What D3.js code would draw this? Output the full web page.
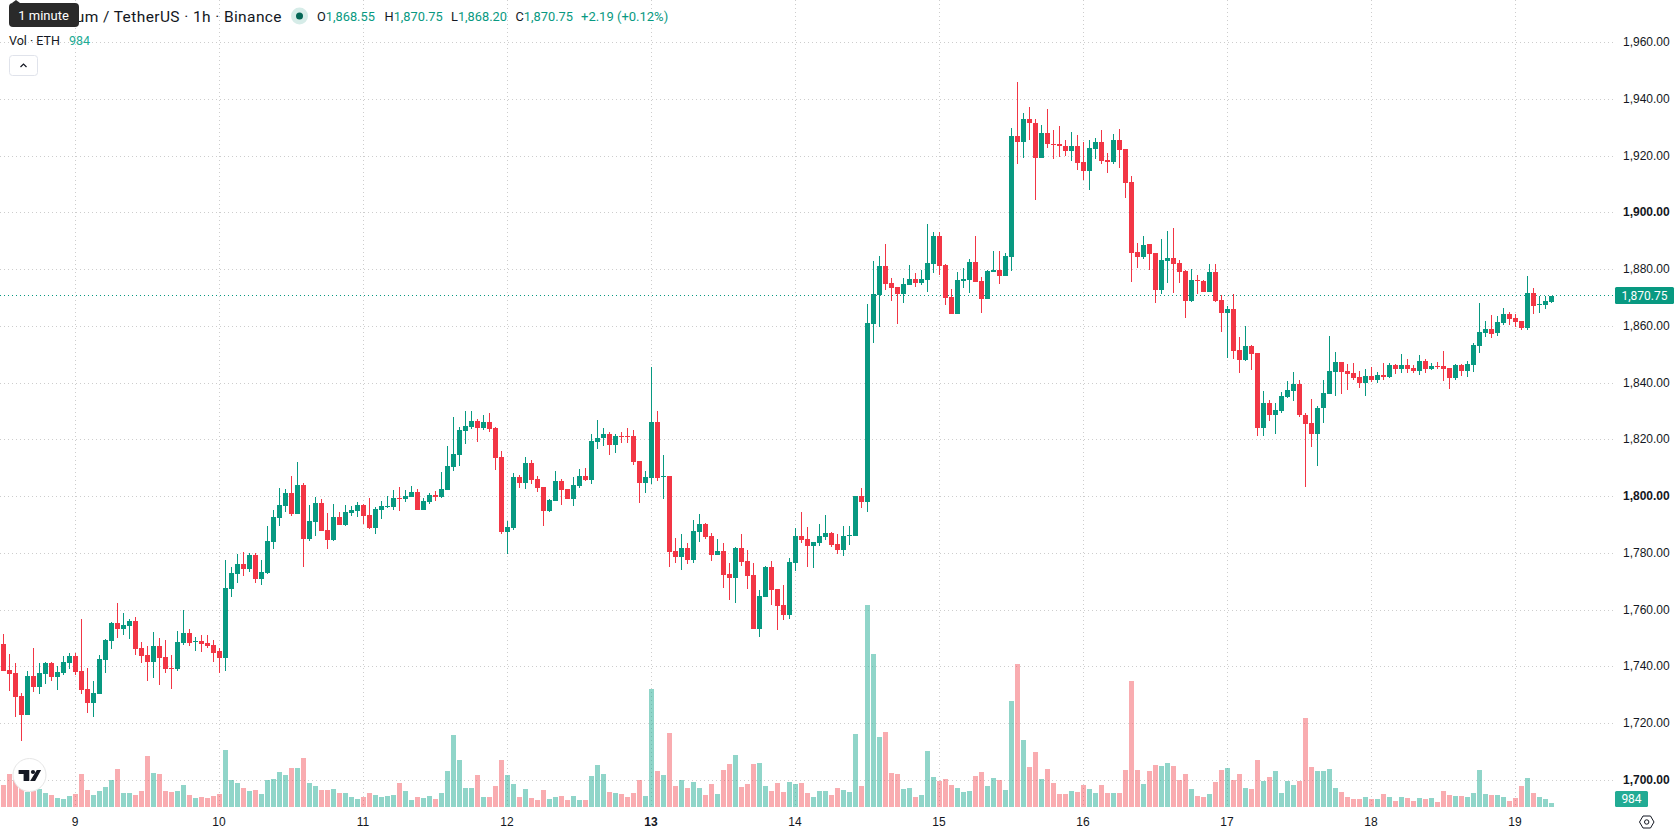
<!DOCTYPE html>
<html>
<head>
<meta charset="utf-8">
<title>ETH/USDT 1h</title>
<script src="https://cdn.jsdelivr.net/npm/d3@7/dist/d3.min.js"></script>
<style>
  html, body { margin: 0; padding: 0; background: #fff; }
  svg { display: block; font-family: Roboto, "Noto Sans", sans-serif; }
  .axis text { fill: #131722; font-size: 12px; }
  .axis .major text { font-weight: 700; }
</style>
</head>
<body>
<svg id="chart" width="1678" height="835"></svg>
<script>
// Hourly candles, oldest first; the first bar is the 8th at 12:00.
const opens = [
  1748.1,1739.0,1737.9,1729.8,1723.1,1736.8,1733.0,1737.5,1741.4,1736.5,
  1737.9,1741.4,1743.9,1738.6,1732.3,1727.4,1730.5,1742.5,1749.1,1755.5,
  1753.4,1754.4,1756.2,1746.7,1744.2,1741.8,1747.4,1743.5,1739.6,1739.3,
  1748.4,1752.0,1748.8,1749.1,1748.4,1747.7,1745.6,1743.2,1767.4,1772.7,
  1776.2,1774.5,1779.4,1770.9,1773.1,1783.9,1792.4,1796.6,1801.2,1793.8,
  1804.0,1785.0,1791.0,1797.7,1788.2,1784.7,1792.7,1789.9,1794.1,1794.8,
  1797.0,1793.4,1788.9,1795.2,1796.3,1796.3,1799.4,1799.1,1799.8,1801.5,
  1795.2,1798.0,1800.5,1799.8,1802.2,1810.3,1814.5,1823.0,1824.4,1826.5,
  1824.0,1826.1,1824.0,1813.8,1787.5,1788.9,1806.8,1804.7,1811.7,1806.1,
  1803.3,1794.8,1798.4,1805.4,1802.6,1799.1,1803.6,1807.1,1805.7,1819.1,
  1820.5,1821.9,1818.0,1821.5,1821.5,1821.2,1812.4,1804.7,1806.4,1826.4,
  1806.8,1807.1,1780.7,1778.6,1781.8,1777.6,1787.4,1790.3,1786.0,1779.3,
  1780.7,1772.7,1771.3,1781.8,1777.2,1772.3,1753.3,1764.6,1775.1,1767.4,
  1761.8,1758.3,1776.5,1786.0,1785.0,1782.5,1783.6,1785.7,1787.1,1783.2,
  1781.1,1786.0,1786.0,1800.1,1798.0,1860.8,1871.0,1881.2,1875.2,1873.8,
  1871.4,1874.5,1876.6,1875.2,1876.3,1881.9,1891.8,1881.6,1870.3,1864.3,
  1875.9,1876.3,1882.6,1875.9,1869.6,1879.1,1879.8,1877.7,1884.4,1926.9,
  1925.1,1933.2,1931.8,1919.2,1928.0,1924.4,1924.1,1923.7,1921.6,1923.4,
  1917.8,1914.6,1922.3,1925.1,1918.5,1917.8,1925.5,1922.3,1910.7,1886.1,
  1884.4,1888.9,1885.8,1872.7,1882.9,1884.0,1882.2,1879.4,1868.8,1876.2,
  1875.9,1872.0,1879.1,1869.2,1864.6,1866.0,1851.5,1848.0,1852.9,1850.5,
  1824.0,1832.8,1828.6,1830.0,1834.9,1837.1,1839.5,1828.9,1825.8,1822.2,
  1831.1,1836.0,1843.8,1847.3,1844.1,1843.4,1842.0,1839.9,1842.4,1840.9,
  1842.7,1842.0,1846.2,1844.8,1846.2,1845.2,1844.1,1847.6,1844.8,1845.9,
  1845.9,1845.2,1841.6,1846.2,1844.1,1846.2,1852.9,1857.5,1858.9,1857.5,
  1861.1,1864.2,1862.8,1861.8,1859.3,1871.6,1867.4,1867.4,1868.55
];
const closes = [
  1738.6,1737.6,1729.5,1723.1,1736.8,1733.0,1737.9,1741.4,1736.5,1738.3,
  1741.8,1743.9,1738.3,1731.9,1727.4,1730.9,1742.8,1749.5,1755.5,1753.4,
  1754.8,1756.2,1746.3,1743.9,1741.8,1747.4,1743.2,1739.3,1739.3,1748.8,
  1752.0,1748.4,1749.1,1748.1,1747.4,1744.9,1743.2,1767.8,1773.1,1776.2,
  1774.5,1779.4,1770.9,1773.4,1784.3,1792.7,1797.0,1801.2,1793.8,1804.0,
  1785.0,1791.3,1797.7,1787.8,1784.7,1792.7,1789.9,1794.5,1795.2,1797.0,
  1793.1,1788.9,1795.5,1796.6,1796.6,1799.4,1799.1,1800.1,1801.5,1795.2,
  1798.4,1800.5,1799.8,1802.6,1810.7,1814.9,1823.3,1824.7,1826.5,1824.0,
  1826.1,1823.7,1813.5,1787.5,1789.2,1806.8,1804.7,1811.7,1805.7,1802.9,
  1794.8,1798.7,1805.4,1802.2,1799.1,1804.0,1807.1,1805.7,1819.4,1820.8,
  1821.9,1818.0,1821.5,1821.2,1821.2,1812.0,1804.7,1806.8,1826.4,1806.4,
  1807.1,1780.4,1778.6,1781.8,1777.6,1787.8,1790.3,1785.7,1779.3,1780.7,
  1772.3,1771.3,1781.8,1776.9,1772.0,1753.3,1764.9,1775.1,1767.0,1761.4,
  1758.3,1776.9,1786.0,1784.6,1782.5,1783.9,1786.0,1787.1,1782.9,1781.1,
  1786.0,1786.4,1800.1,1798.0,1861.2,1871.4,1881.2,1874.9,1873.5,1871.4,
  1874.9,1876.6,1875.2,1876.6,1882.3,1891.8,1881.2,1870.0,1864.3,1876.3,
  1876.6,1882.6,1875.6,1869.6,1879.4,1879.8,1877.7,1884.7,1926.9,1925.1,
  1933.2,1931.5,1919.2,1928.0,1924.1,1924.1,1923.4,1921.6,1923.4,1917.4,
  1914.6,1922.7,1925.1,1918.1,1917.8,1925.5,1922.0,1910.4,1885.8,1884.4,
  1888.6,1885.4,1872.7,1883.3,1884.0,1881.9,1879.1,1868.8,1876.2,1875.9,
  1872.0,1879.1,1868.8,1864.6,1866.0,1851.2,1848.0,1852.9,1850.1,1824.0,
  1832.8,1828.6,1830.4,1835.3,1837.4,1839.5,1828.6,1825.4,1822.2,1831.1,
  1836.4,1844.2,1847.3,1843.8,1843.1,1841.6,1839.9,1842.4,1840.9,1842.7,
  1842.0,1846.2,1844.8,1846.2,1844.8,1844.1,1847.6,1844.8,1845.9,1845.5,
  1844.8,1841.6,1846.2,1844.1,1846.6,1853.3,1857.9,1858.9,1857.2,1861.4,
  1864.2,1862.5,1861.4,1859.3,1871.6,1867.1,1867.8,1868.8,1870.75
];
const highs = [
  1751.6,1744.6,1741.4,1730.9,1738.6,1746.7,1741.4,1741.8,1741.8,1740.3,
  1743.9,1744.9,1744.9,1756.9,1739.7,1735.1,1744.2,1749.9,1755.9,1762.5,
  1759.0,1756.9,1757.6,1748.8,1747.4,1752.3,1750.2,1749.5,1744.2,1752.7,
  1760.0,1753.4,1750.6,1751.3,1751.3,1749.5,1746.7,1777.6,1775.2,1779.8,
  1780.5,1780.1,1780.1,1777.6,1789.6,1795.2,1802.9,1802.6,1807.1,1812.1,
  1804.7,1797.0,1799.8,1799.1,1794.1,1797.3,1794.5,1797.0,1796.6,1798.0,
  1797.3,1799.5,1796.3,1798.4,1800.1,1802.2,1803.3,1802.2,1803.6,1802.6,
  1799.4,1801.2,1801.9,1808.6,1817.7,1827.9,1824.4,1830.0,1830.0,1827.2,
  1828.6,1829.3,1824.4,1815.9,1791.3,1808.2,1807.5,1813.8,1812.8,1807.1,
  1803.3,1799.1,1808.9,1806.1,1802.6,1806.8,1809.6,1810.0,1821.9,1826.8,
  1824.3,1822.6,1822.2,1822.9,1824.0,1823.6,1812.4,1808.9,1845.8,1830.0,
  1814.8,1807.1,1785.3,1786.7,1783.5,1791.6,1793.8,1790.6,1787.1,1785.0,
  1783.5,1776.5,1782.2,1786.7,1781.0,1776.5,1767.1,1775.5,1777.2,1767.4,
  1768.8,1778.3,1788.8,1794.5,1789.2,1783.9,1790.3,1793.4,1787.4,1786.7,
  1789.5,1789.5,1800.1,1802.9,1867.9,1883.0,1884.7,1888.9,1877.0,1873.8,
  1877.0,1881.6,1878.7,1879.8,1896.0,1893.2,1893.2,1881.9,1873.1,1879.1,
  1880.5,1883.7,1891.8,1877.3,1879.8,1886.5,1886.5,1885.8,1929.7,1946.2,
  1935.3,1937.4,1932.9,1931.1,1936.7,1929.0,1930.4,1925.5,1928.3,1927.3,
  1924.8,1925.8,1926.2,1929.0,1920.9,1927.6,1929.4,1922.3,1912.8,1889.3,
  1891.8,1888.9,1885.8,1890.7,1893.5,1894.6,1883.3,1879.8,1880.1,1878.0,
  1876.2,1881.9,1881.9,1870.9,1867.1,1871.3,1856.1,1860.0,1853.3,1850.5,
  1837.1,1833.9,1832.8,1836.7,1840.6,1843.8,1840.9,1829.6,1834.2,1831.8,
  1840.9,1856.5,1851.0,1847.3,1846.6,1846.9,1844.1,1844.8,1845.5,1843.8,
  1846.9,1846.9,1846.6,1850.1,1848.4,1846.2,1849.8,1848.4,1846.9,1847.3,
  1851.3,1845.2,1846.6,1846.6,1847.6,1854.0,1868.1,1861.8,1863.9,1863.5,
  1866.4,1864.9,1864.2,1861.8,1877.6,1873.4,1870.6,1870.6,1870.75
];
const lows = [
  1738.6,1731.6,1722.4,1714.0,1723.1,1731.2,1730.5,1734.0,1735.1,1731.9,
  1737.2,1739.3,1737.2,1730.5,1723.8,1722.4,1730.5,1737.9,1746.3,1750.2,
  1751.3,1749.9,1744.2,1741.4,1735.1,1736.1,1733.7,1737.9,1732.3,1738.6,
  1747.7,1747.4,1745.6,1745.3,1746.7,1741.8,1737.9,1738.6,1764.6,1769.5,
  1772.0,1773.3,1769.5,1768.8,1772.7,1781.5,1789.6,1794.5,1793.1,1793.8,
  1775.2,1784.3,1786.1,1787.8,1781.5,1784.3,1789.9,1789.6,1793.1,1792.7,
  1790.3,1788.5,1786.8,1792.0,1795.9,1795.2,1794.8,1798.0,1799.8,1795.2,
  1795.2,1797.3,1798.4,1799.4,1802.2,1808.9,1810.7,1818.4,1823.7,1819.1,
  1823.3,1822.6,1809.3,1786.8,1779.7,1788.2,1802.9,1802.6,1804.3,1801.5,
  1789.6,1794.5,1798.4,1797.0,1799.1,1796.6,1802.9,1805.4,1804.3,1816.6,
  1817.7,1814.8,1815.2,1818.7,1818.7,1811.0,1797.6,1801.1,1804.3,1805.4,
  1799.0,1775.1,1776.5,1774.1,1776.2,1776.5,1783.9,1785.0,1777.2,1779.3,
  1767.7,1763.5,1762.5,1775.5,1767.4,1753.3,1750.5,1764.6,1761.8,1753.0,
  1756.5,1756.8,1773.7,1783.6,1775.1,1774.8,1782.5,1784.6,1782.2,1779.7,
  1779.0,1782.9,1786.0,1795.9,1794.5,1854.2,1859.8,1872.8,1868.9,1860.8,
  1868.2,1874.5,1873.8,1874.5,1872.1,1878.7,1878.0,1867.5,1864.3,1864.3,
  1873.5,1871.7,1875.6,1864.7,1869.6,1879.1,1874.9,1877.7,1879.4,1917.1,
  1919.2,1925.8,1904.4,1919.2,1922.7,1918.8,1919.5,1919.9,1918.1,1915.0,
  1911.4,1907.9,1918.8,1917.1,1913.9,1917.1,1915.7,1905.1,1875.6,1880.5,
  1883.7,1879.8,1868.1,1871.3,1875.2,1871.6,1875.2,1862.8,1868.5,1871.3,
  1872.0,1872.0,1868.5,1857.9,1848.7,1848.4,1843.4,1847.6,1844.5,1821.5,
  1821.2,1826.5,1821.9,1829.6,1834.6,1833.5,1828.2,1803.5,1817.6,1810.9,
  1825.8,1836.0,1835.6,1836.0,1837.4,1840.9,1838.1,1835.6,1840.2,1839.9,
  1840.9,1841.6,1843.1,1843.4,1843.4,1843.4,1842.7,1843.4,1844.5,1844.8,
  1840.6,1837.8,1840.9,1842.4,1842.0,1843.8,1850.5,1856.1,1855.8,1856.5,
  1860.4,1860.4,1859.6,1858.6,1858.6,1864.2,1864.6,1866.0,1868.20
];
const volumes = [
  5412,8118,6642,5412,3690,3936,4428,3444,2952,2214,
  1968,2706,3198,8118,4182,2952,3936,4920,6642,9348,
  3444,3444,2952,3936,12546,8364,8118,3936,3690,3936,
  5412,2952,2214,2460,2214,2706,3198,14022,6642,5904,
  4674,3936,4182,3198,6642,6888,8610,7872,9594,9594,
  12054,5904,5166,4182,4182,4428,3444,3444,2460,1968,
  2460,3444,2952,2460,2706,2952,5904,3936,1722,2460,
  2214,2706,1968,3444,8856,17712,11562,4674,4674,7872,
  2460,2460,5166,11562,7872,5658,2460,4428,2214,1722,
  4182,1968,2460,2706,1722,2706,1722,1722,7626,10332,
  8118,3690,3444,3198,2460,3444,6642,2706,29028,8856,
  7872,18204,5166,6642,4674,6150,4674,2952,5658,3198,
  9102,10578,12792,4920,5658,10578,10824,5166,3936,5904,
  3690,6150,5658,5904,3444,2460,3936,3936,2952,4674,
  4182,3690,17958,5166,49692,37638,17220,18450,8364,8118,
  4428,4674,2460,2952,13776,7380,6396,6888,5412,4674,
  3690,3936,7626,8610,5166,7134,6642,4182,26076,35178,
  16482,9840,13530,6888,9348,5904,3198,3198,3936,3690,
  5412,4428,3444,5412,3444,3444,3444,9102,30996,9102,
  5658,8856,10332,10086,10824,10086,6642,8118,4428,2706,
  2460,3198,6150,9102,9594,6642,8118,4674,4428,11562,
  6396,7380,8856,3444,6396,5412,6396,21894,9840,8856,
  8856,9348,4674,3690,2460,1968,1968,2460,1968,1968,
  3198,2460,1476,2460,2214,1476,2214,1968,2214,1230,
  3936,2952,2706,2706,2460,3444,9102,3198,2952,2952,
  2460,1476,2214,5166,7134,3444,2460,1968,984
];
const priceTicks = [1700,1720,1740,1760,1780,1800,1820,1840,1860,1880,1900,1920,1940,1960];
const majorPrices = [1700,1800,1900];
const dayLabels = [9,10,11,12,13,14,15,16,17,18,19];
const dayBars = [12,36,60,84,108,132,156,180,204,228,252];
const majorDays = [13];
const lastPrice = 1870.75;
const lastVolume = 984;

const UP = "#089981", DOWN = "#f23645";
const UP_VOL = "rgba(34,171,148,0.5)", DOWN_VOL = "rgba(242,70,80,0.45)";
const GRID = "#cdcdcd", INK = "#131722";

const W = 1678, H = 835, plotRight = 1613, volBase = 807;
const svg = d3.select("#chart");

const x = d3.scaleLinear().domain([0, opens.length - 1]).range([3.5, 1551.5]);
const y = d3.scaleLinear().domain([1700, 1960]).range([780.3, 42.5]);
const yv = d3.scaleLinear().domain([0, d3.max(volumes)]).range([volBase, 605]);
const snap = v => Math.round(v);
const rowCentre = v => Math.floor(v) + 0.5;

// Dotted background grid
const grid = svg.append("g").attr("fill", "none").attr("stroke", GRID)
  .attr("stroke-width", 1).attr("stroke-dasharray", "1 3");
grid.selectAll("line.h").data(priceTicks).join("line").attr("class", "h")
  .attr("x1", 0).attr("x2", plotRight)
  .attr("y1", d => rowCentre(y(d))).attr("y2", d => rowCentre(y(d)));
grid.selectAll("line.v").data(dayBars).join("line").attr("class", "v")
  .attr("y1", 0).attr("y2", volBase + 1)
  .attr("x1", d => x(d)).attr("x2", d => x(d));

const bars = d3.range(opens.length);

// Volume histogram along the bottom of the pane
svg.append("g").selectAll("rect").data(bars).join("rect")
  .attr("x", i => x(i) - 2.5).attr("width", 5)
  .attr("y", i => snap(yv(volumes[i])))
  .attr("height", i => volBase - snap(yv(volumes[i])))
  .attr("fill", i => closes[i] >= opens[i] ? UP_VOL : DOWN_VOL);

// Last-price line
svg.append("line").attr("x1", 0).attr("x2", plotRight)
  .attr("y1", rowCentre(y(lastPrice))).attr("y2", rowCentre(y(lastPrice)))
  .attr("stroke", UP).attr("stroke-dasharray", "1 3");

// Candles: 1px wick and 5px body on whole pixels
const candles = svg.append("g").attr("shape-rendering", "crispEdges");
candles.selectAll("rect.wick").data(bars).join("rect").attr("class", "wick")
  .attr("x", i => x(i) - 0.5).attr("width", 1)
  .attr("y", i => snap(y(highs[i])))
  .attr("height", i => Math.max(1, snap(y(lows[i])) - snap(y(highs[i]))))
  .attr("fill", i => closes[i] >= opens[i] ? UP : DOWN);
candles.selectAll("rect.body").data(bars).join("rect").attr("class", "body")
  .attr("x", i => x(i) - 2.5).attr("width", 5)
  .attr("y", i => snap(y(Math.max(opens[i], closes[i]))))
  .attr("height", i => Math.max(1, snap(y(Math.min(opens[i], closes[i]))) - snap(y(Math.max(opens[i], closes[i])))))
  .attr("fill", i => closes[i] >= opens[i] ? UP : DOWN);

// Price axis
const priceAxis = d3.axisRight(y).tickValues(priceTicks).tickSize(0).tickPadding(0)
  .tickFormat(d3.format(",.2f"));
const pa = svg.append("g").attr("class", "axis").attr("transform", "translate(1623,-1)").call(priceAxis);
pa.select(".domain").remove();
pa.selectAll(".tick").classed("major", d => majorPrices.includes(d));
pa.selectAll("text").attr("font-family", null).attr("dy", "0.35em");

// Day axis
const dayOf = d3.scaleOrdinal().domain(dayBars).range(dayLabels);
const timeAxis = d3.axisBottom(x).tickValues(dayBars).tickSize(0).tickPadding(0).tickFormat(d => dayOf(d));
const ta = svg.append("g").attr("class", "axis").attr("transform", "translate(-1,822)").call(timeAxis);
ta.select(".domain").remove();
ta.selectAll(".tick").classed("major", d => majorDays.includes(dayOf(d)));
ta.selectAll("text").attr("font-family", null).attr("dy", "0.35em");

// Value badges on the price scale
const fmt = d3.format(",.2f");
function badge(x0, top, w, h, fill, text) {
  svg.append("rect").attr("x", x0).attr("y", top).attr("width", w).attr("height", h).attr("rx", 1.5).attr("fill", fill);
  svg.append("text").attr("x", x0 + w / 2).attr("y", top + h / 2).attr("dy", "0.35em").attr("text-anchor", "middle")
    .attr("fill", "#fff").attr("font-size", 12).text(text);
}
badge(1615, Math.floor(y(lastPrice)) - 8, 59, 17, UP, fmt(lastPrice));
badge(1615, volBase - 16, 33, 16, "#22ab94", d3.format(",")(lastVolume));

// Legend rows
const legend = svg.append("g");
legend.append("text").attr("x", 282).attr("y", 21.5).attr("text-anchor", "end")
  .attr("font-size", 15.5).attr("letter-spacing", 0.4).attr("fill", INK)
  .text("Ethereum / TetherUS · 1h · Binance");
legend.append("circle").attr("cx", 299.5).attr("cy", 16).attr("r", 8.5).attr("fill", "#d6ece8");
legend.append("circle").attr("cx", 299.5).attr("cy", 16).attr("r", 3.5).attr("fill", "#056656");

const ohlc = [["O", opens], ["H", highs], ["L", lows], ["C", closes]];
const ohlcX = [317, 384.5, 451, 515.5];
ohlc.forEach(([k, arr], i) => {
  const t = legend.append("text").attr("x", ohlcX[i]).attr("y", 20.5).attr("font-size", 12.8);
  t.append("tspan").attr("fill", INK).text(k);
  t.append("tspan").attr("fill", UP).text(fmt(arr[arr.length - 1]));
});
const change = 2.19, changePct = 0.12;
legend.append("text").attr("x", 581).attr("y", 20.5).attr("font-size", 13).attr("fill", UP)
  .text(`+${change.toFixed(2)} (+${changePct.toFixed(2)}%)`);

legend.append("text").attr("x", 9).attr("y", 45).attr("font-size", 12.5).attr("fill", INK).text("Vol · ETH");
legend.append("text").attr("x", 69).attr("y", 45).attr("font-size", 12.5).attr("fill", "#22ab94").text(lastVolume);

// Collapse button
legend.append("rect").attr("x", 9.5).attr("y", 55.5).attr("width", 28).attr("height", 20).attr("rx", 3)
  .attr("fill", "#fff").attr("stroke", "#e0e3eb");
legend.append("path").attr("d", "M20.5 67 L23.5 64 L26.5 67").attr("fill", "none").attr("stroke", INK).attr("stroke-width", 1.2);

// Tooltip sitting over the start of the title
legend.append("path").attr("d", "M12 3 L16 0 L20 3 Z").attr("fill", "#2a2a2a");
legend.append("rect").attr("x", 9).attr("y", 3).attr("width", 70).attr("height", 24).attr("rx", 4).attr("fill", "#2a2a2a");
legend.append("text").attr("x", 43.5).attr("y", 15).attr("dy", "0.35em").attr("text-anchor", "middle")
  .attr("font-size", 13).attr("fill", "#fff").text("1 minute");

// Logo badge in the lower-left corner
const logo = svg.append("g");
logo.append("circle").attr("cx", 29.5).attr("cy", 775).attr("r", 16.5).attr("fill", "#fff").attr("stroke", "#e6e6e6").attr("stroke-width", 1);
logo.append("path").attr("fill", "#131722").attr("d", "M18.6 770h10.7v11h-5.7v-7h-5z M36.8 770h4.3l-6 11h-5z");
logo.append("circle").attr("cx", 33).attr("cy", 772).attr("r", 2.1).attr("fill", "#131722");

// Settings glyph under the price scale
const gear = svg.append("g").attr("fill", "none").attr("stroke", "#131722").attr("stroke-width", 1);
gear.append("path").attr("d", "M1639.5 822 L1643 816 H1650.5 L1654 822 L1650.5 828 H1643 Z");
gear.append("circle").attr("cx", 1646.7).attr("cy", 822).attr("r", 2.2);
</script>
</body>
</html>
